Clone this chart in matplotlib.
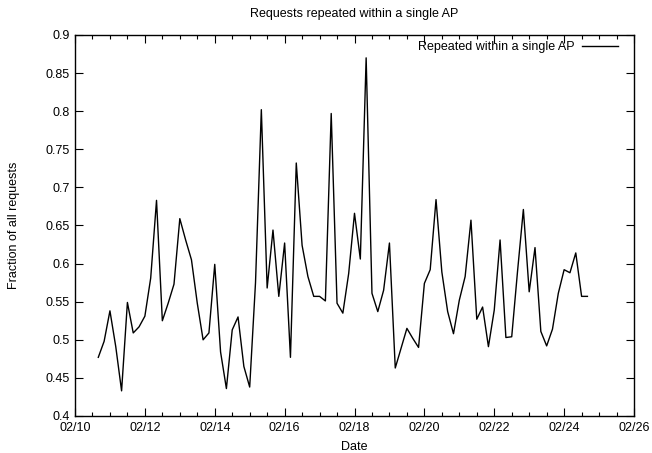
import matplotlib
matplotlib.use("Agg")
import matplotlib.pyplot as plt
import matplotlib.dates as mdates
import pandas as pd

plt.rcParams['font.family'] = ['Liberation Sans', 'DejaVu Sans']

# Fraction of requests repeated within a single AP, sampled every 4 hours
start_time = "2011-02-10 16:00"
sample_freq = "4h"
fraction = [
    0.477, 0.498, 0.538, 0.491, 0.433, 0.549, 0.509, 0.517, 0.531, 0.581,
    0.683, 0.525, 0.548, 0.573, 0.659, 0.631, 0.605, 0.548, 0.500, 0.509,
    0.599, 0.484, 0.436, 0.513, 0.530, 0.465, 0.438, 0.575, 0.802, 0.568,
    0.644, 0.557, 0.627, 0.477, 0.732, 0.624, 0.583, 0.557, 0.557, 0.551,
    0.797, 0.548, 0.535, 0.587, 0.666, 0.606, 0.870, 0.561, 0.537, 0.565,
    0.627, 0.463, 0.489, 0.515, 0.502, 0.490, 0.574, 0.592, 0.684, 0.589,
    0.537, 0.508, 0.552, 0.583, 0.657, 0.527, 0.543, 0.491, 0.539, 0.631,
    0.503, 0.504, 0.590, 0.671, 0.563, 0.621, 0.511, 0.492, 0.514, 0.561,
    0.592, 0.588, 0.614, 0.557, 0.557,
]
series_label = "Repeated within a single AP"
x_range = ("2011-02-10", "2011-02-26")
y_range = (0.4, 0.9)
y_ticks = [0.4, 0.45, 0.5, 0.55, 0.6, 0.65, 0.7, 0.75, 0.8, 0.85, 0.9]
y_tick_labels = ["0.4", "0.45", "0.5", "0.55", "0.6", "0.65", "0.7", "0.75", "0.8", "0.85", "0.9"]

times = pd.date_range(start=start_time, periods=len(fraction), freq=sample_freq)

fig = plt.figure(figsize=(6.52, 4.53), dpi=100)
ax = fig.add_axes([75 / 652, 1 - 416 / 453, (634 - 75) / 652, (416 - 35) / 453])

ax.plot(times, fraction, color="black", linewidth=1.0, label=series_label)

ax.set_xlim(pd.Timestamp(x_range[0]), pd.Timestamp(x_range[1]))
ax.set_ylim(*y_range)
ax.set_yticks(y_ticks)
ax.set_yticklabels(y_tick_labels)

ax.xaxis.set_major_locator(mdates.DayLocator(interval=2))
ax.xaxis.set_minor_locator(mdates.HourLocator(byhour=[0, 12]))
ax.xaxis.set_major_formatter(mdates.DateFormatter("%m/%d"))

ax.tick_params(axis="both", which="both", direction="in", top=True, right=True,
               labelsize=9, width=0.8, pad=4)
ax.tick_params(axis="both", which="major", length=6)
ax.tick_params(axis="x", which="minor", length=3)
for s in ax.spines.values():
    s.set_linewidth(1.0)

ax.set_title("Requests repeated within a single AP", fontsize=9, pad=13)
ax.set_xlabel("Date", fontsize=9, labelpad=5)
ax.set_ylabel("Fraction of all requests", fontsize=9, labelpad=18)

ax.legend(loc="upper right", bbox_to_anchor=(0.976, 0.99), frameon=False,
          markerfirst=False, fontsize=9, handlelength=2.9, handletextpad=0.55,
          borderaxespad=0.0, borderpad=0.2)

fig.savefig("out.png", dpi=100)
